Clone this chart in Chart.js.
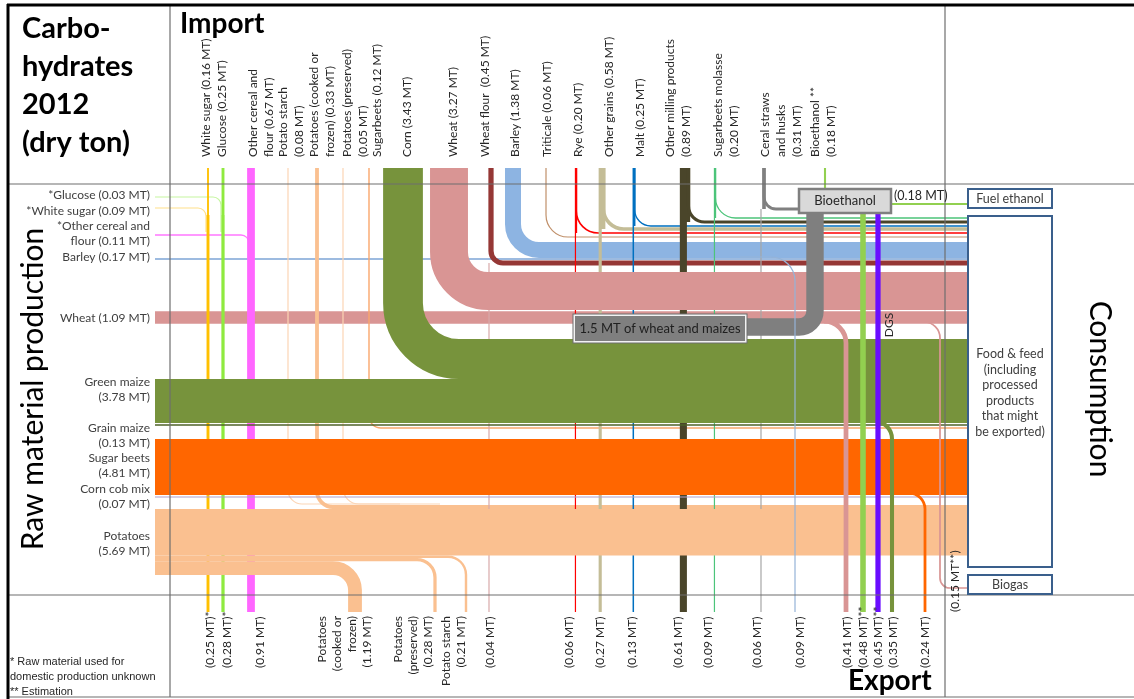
<!DOCTYPE html>
<html>
<head>
<meta charset="utf-8">
<title>Carbohydrates 2012 (dry ton)</title>
<script src="https://cdn.jsdelivr.net/npm/chart.js@4.4.1/dist/chart.umd.min.js"></script>
<style>
  html, body { margin: 0; padding: 0; background: #fff; }
  #wrap { width: 1134px; height: 699px; }
</style>
</head>
<body>
<div id="wrap"><canvas id="flows" width="1134" height="699"></canvas></div>
<script>
// ---- values (million dry tons) ----
const importLabels = ["White sugar ({v} MT)", "Glucose ({v} MT)", "Other cereal and\nflour ({v} MT)",
  "Potato starch\n({v} MT)", "Potatoes (cooked or\nfrozen) ({v} MT)", "Potatoes (preserved)\n({v} MT)",
  "Sugarbeets ({v} MT)", "Corn ({v} MT)", "Wheat ({v} MT)", "Wheat flour  ({v} MT)", "Barley ({v} MT)",
  "Triticale ({v} MT)", "Rye ({v} MT)", "Other grains ({v} MT)", "Malt ({v} MT)",
  "Other milling products\n({v} MT)", "Sugarbeets molasse\n({v} MT)", "Ceral straws\nand husks\n({v} MT)",
  "Bioethanol **\n({v} MT)"];
const importValues = [0.16, 0.25, 0.67, 0.08, 0.33, 0.05, 0.12, 3.43, 3.27, 0.45, 1.38, 0.06, 0.20, 0.58, 0.25, 0.89, 0.20, 0.31, 0.18];

const rawLabels = ["*Glucose ({v} MT)", "*White sugar ({v} MT)", "*Other cereal and\nflour ({v} MT)",
  "Barley ({v} MT)", "Wheat ({v} MT)", "Green maize\n({v} MT)", "Grain maize\n({v} MT)",
  "Sugar beets\n({v} MT)", "Corn cob mix\n({v} MT)", "Potatoes\n({v} MT)"];
const rawValues = [0.03, 0.09, 0.11, 0.17, 1.09, 3.78, 0.13, 4.81, 0.07, 5.69];

const exportLabels = ["({v} MT)*", "({v} MT)*", "({v} MT)", "Potatoes\n(cooked or\nfrozen)\n({v} MT)",
  "Potatoes\n(preserved)\n({v} MT)", "Potato starch\n({v} MT)", "({v} MT)", "({v} MT)", "({v} MT)",
  "({v} MT)", "({v} MT)", "({v} MT)", "({v} MT)", "({v} MT)", "({v} MT)", "({v} MT)**", "({v} MT)**",
  "({v} MT)", "({v} MT)", "({v} MT**)"];
const exportValues = [0.25, 0.28, 0.91, 1.19, 0.28, 0.21, 0.04, 0.06, 0.27, 0.13, 0.61, 0.09, 0.06, 0.09, 0.41, 0.48, 0.45, 0.35, 0.24, 0.15];

const wheatMaizeToEthanol = 1.5;
const fuelEthanol = 0.18;

// ---- layout (positions on the hidden 0..1134 / 0..699 scales) ----
const importX = [208, 223, 251, 288, 317, 343, 369, 403, 449, 491, 513, 546, 576, 602, 634, 685, 715, 764, 825];
const importLabelX = [206, 222, 253, 283, 314, 347, 377, 407, 453, 485, 515, 547, 578, 609, 640, 670, 718, 765, 815];
const rawY = [197, 208, 235, 259, 317.5, 401, 425, 467, 497, 509];
const rawLabelY = [195, 211, 226, 257, 318, 382, 428, 458, 489, 536];
const exportX = [208, 223, 251, 355, 435, 466, 489, 576, 600, 634, 684, 715, 761, 795, 846, 863, 878, 892, 925, 940];
const exportLabelX = [210, 227, 260, 322, 398, 446, 490, 569, 600, 632, 678, 708, 757, 800, 847, 863, 878, 893, 925, 955];

const K = 11.6;                       // px per MT
const TOP = 168, BOT = 612, LEFT = 155, RIGHT = 967;
const w = v => Math.max(v * K, 1.2);
const fmt = (tpl, v) => tpl.replace("{v}", v.toFixed(2));

// layer: 0 behind the big bands, 1 big bands, 2 on top
const flows = [];
let layer = 0;
function flow(value, color, pts, r) { flows.push({ value, color, pts, r, layer }); }

// through-going import column: part turns right into a lane, rest goes down to export
function through(i, color, laneY, r, e) {
  const x = importX[i], vi = importValues[i], ve = exportValues[e], vl = vi - ve;
  const wi = w(vi), we = w(ve), wl = w(vl);
  flow(vi, color, [[x, TOP], [x, laneY]]);
  const xb = x + wi / 2 - wl / 2;
  flow(vl, color, [[xb, TOP], [xb, laneY], [RIGHT, laneY]], r);
  flow(ve, color, [[x - wi / 2 + we / 2, laneY], [x - wi / 2 + we / 2, BOT]]);
}

// ---- layer 0 ----
flow(rawValues[0], "#C6F5A0", [[LEFT, rawY[0]], [importX[1] - 2, rawY[0]], [importX[1] - 2, 232]], 8);
flow(rawValues[1], "#FFE08A", [[LEFT, rawY[1]], [importX[0] - 2, rawY[1]], [importX[0] - 2, 232]], 8);
flow(rawValues[2], "#FF77FF", [[LEFT, rawY[2]], [importX[2] - 2, rawY[2]], [importX[2] - 2, 262]], 8);
flow(rawValues[4], "#D99594", [[LEFT, rawY[4]], [RIGHT, rawY[4]]]);
flow(rawValues[3], "#9DBBE0", [[LEFT, rawY[3]], [RIGHT, rawY[3]]]);
flow(importValues[10], "#8DB4E2", [[importX[10], TOP], [importX[10], 250], [RIGHT, 250]], 26);

flow(importValues[0], "#FFC000", [[importX[0], TOP], [importX[0], 215]]);
flow(exportValues[0], "#FFC000", [[importX[0], 215], [exportX[0], BOT]]);
flow(importValues[1], "#8FEA3F", [[importX[1], TOP], [importX[1], 215]]);
flow(exportValues[1], "#8FEA3F", [[importX[1], 215], [exportX[1], BOT]]);
flow(importValues[2], "#FF66FF", [[importX[2], TOP], [importX[2], BOT]]);
flow(importValues[3], "#FCD5B5", [[importX[3], TOP], [importX[3], 504], [400, 504]], 14);
flow(importValues[5], "#FCD5B5", [[importX[5], TOP], [importX[5], 504], [440, 504]], 16);
flow(importValues[4], "#FAC090", [[importX[4], TOP], [importX[4], 507], [RIGHT, 507]], 16);
flow(importValues[6], "#F9A66C", [[importX[6], TOP], [importX[6], 428], [RIGHT, 428]], 12);
flow(importValues[9], "#953735", [[importX[9], TOP], [importX[9], 263], [RIGHT, 263]], 12);
flow(exportValues[6], "#D8A9A9", [[exportX[6], 263], [exportX[6], BOT]]);
flow(importValues[11], "#C0906A", [[importX[11], TOP], [importX[11], 237], [RIGHT, 237]], 22);
through(12, "#FF0000", 233, 22, 7);
through(13, "#C4BD97", 229, 20, 8);
through(14, "#0070C0", 226, 16, 9);
through(15, "#4A452A", 222, 16, 10);
through(16, "#4CC47A", 218, 20, 11);
flow(importValues[17], "#808080", [[importX[17], TOP], [importX[17], 209]]);
flow(importValues[17] - exportValues[12], "#808080", [[importX[17], TOP], [importX[17], 209], [800, 209]], 12);
flow(exportValues[12], "#A6A6A6", [[exportX[12], 209], [exportX[12], BOT]]);
flow(importValues[18], "#92D050", [[importX[18], TOP], [importX[18], 190]]);

// ---- layer 1: big bands ----
layer = 1;
flow(importValues[8], "#D99594", [[importX[8], TOP], [importX[8], 291], [RIGHT, 291]], 39);
flow(importValues[7], "#77933C", [[importX[7], TOP], [importX[7], 359], [RIGHT, 359]], 56);
flow(rawValues[5], "#77933C", [[LEFT, rawY[5]], [RIGHT, rawY[5]]]);
flow(rawValues[6], "#4F6228", [[LEFT, rawY[6]], [RIGHT, rawY[6]]]);
flow(rawValues[7], "#FF6600", [[LEFT, rawY[7]], [RIGHT, rawY[7]]]);
flow(rawValues[8], "#B1A0C7", [[LEFT, rawY[8]], [RIGHT, rawY[8]]]);
let py = rawY[9];
const potMain = rawValues[9] - exportValues[3] - exportValues[4] - exportValues[5];
flow(potMain, "#FAC090", [[LEFT, py + potMain * K / 2], [RIGHT, py + potMain * K / 2]]);
py += potMain * K;
[[5, 18], [4, 18], [3, 22]].forEach(([e, r]) => {
  const h = exportValues[e] * K;
  flow(exportValues[e], "#FAC090", [[LEFT, py + h / 2], [exportX[e], py + h / 2], [exportX[e], BOT]], r);
  py += h;
});
flow(wheatMaizeToEthanol, "#7F7F7F", [[746, 327], [815, 327], [815, 213]], 16);

// ---- layer 2: exports on the right side ----
layer = 2;
flow(exportValues[13], "#95B3D7", [[740, 257], [exportX[13], 257], [exportX[13], BOT]], 24);
flow(exportValues[14], "#D99594", [[824, 321], [exportX[14], 321], [exportX[14], BOT]], 22);
flow(exportValues[19], "#D99594", [[884, 322], [exportX[19], 322], [exportX[19], 588], [RIGHT, 588]], [16, 10]);
flow(exportValues[17], "#77933C", [[860, 421], [exportX[17], 421], [exportX[17], BOT]], 18);
flow(exportValues[18], "#FF6600", [[895, 493], [exportX[18], 493], [exportX[18], BOT]], 16);
flow(exportValues[15], "#92D050", [[exportX[15], 213], [exportX[15], BOT]]);
flow(exportValues[16], "#6A0DFF", [[exportX[16], 213], [exportX[16], BOT]]);
flow(fuelEthanol, "#92D050", [[891, 204], [RIGHT, 204]]);

const datasets = flows.map(f => ({
  data: f.pts.map(([x, y]) => ({ x, y })),
  borderColor: f.color,
  borderWidth: w(f.value),
  corner: f.r,
  layer: f.layer,
  showLine: false,
  pointRadius: 0
}));

// draws each dataset as a band with rounded corners, placed through the x / y scales
const flowPlugin = {
  id: "flowBands",
  afterDatasetsDraw(chart) {
    const ctx = chart.ctx;
    const xs = chart.scales.x, ys = chart.scales.y;
    [0, 1, 2].forEach(L => {
      chart.data.datasets.forEach(ds => {
        if (ds.layer !== L) return;
        const pts = ds.data.map(p => ({ x: xs.getPixelForValue(p.x), y: ys.getPixelForValue(p.y) }));
        ctx.save();
        ctx.beginPath();
        ctx.moveTo(pts[0].x, pts[0].y);
        for (let j = 1; j < pts.length - 1; j++) {
          const r = Array.isArray(ds.corner) ? ds.corner[j - 1] : (ds.corner || 0);
          ctx.arcTo(pts[j].x, pts[j].y, pts[j + 1].x, pts[j + 1].y, r);
        }
        ctx.lineTo(pts[pts.length - 1].x, pts[pts.length - 1].y);
        ctx.lineWidth = ds.borderWidth;
        ctx.strokeStyle = ds.borderColor;
        ctx.lineCap = "butt";
        ctx.stroke();
        ctx.restore();
      });
    });
  }
};

function txt(ctx, s, x, y, o) {
  ctx.save();
  ctx.translate(x, y);
  if (o.rot) ctx.rotate(o.rot);
  ctx.font = o.font;
  ctx.fillStyle = o.color || "#262626";
  ctx.textAlign = o.align || "left";
  ctx.textBaseline = o.base || "middle";
  ctx.fillText(s, 0, 0);
  ctx.restore();
}

const decorPlugin = {
  id: "decor",
  afterDraw(chart) {
    const ctx = chart.ctx;
    const X = v => chart.scales.x.getPixelForValue(v);
    const Y = v => chart.scales.y.getPixelForValue(v);
    const box = (x0, y0, x1, y1, fill, stroke, lw) => {
      ctx.save();
      ctx.fillStyle = fill; ctx.fillRect(X(x0), Y(y0), X(x1) - X(x0), Y(y1) - Y(y0));
      ctx.strokeStyle = stroke; ctx.lineWidth = lw;
      ctx.strokeRect(X(x0), Y(y0), X(x1) - X(x0), Y(y1) - Y(y0));
      ctx.restore();
    };
    const line = (x0, y0, x1, y1, color, lw) => {
      ctx.save(); ctx.beginPath();
      ctx.moveTo(X(x0), Y(y0)); ctx.lineTo(X(x1), Y(y1));
      ctx.strokeStyle = color; ctx.lineWidth = lw; ctx.stroke(); ctx.restore();
    };

    // frame
    [184, 595, 697].forEach(y => line(8, y, 1134, y, "#6E6E6E", 1.2));
    [170, 945].forEach(x => line(x, 5, x, 697, "#6E6E6E", 1.2));
    line(7, 5, 1134, 5, "#000", 3);
    line(8, 4, 8, 699, "#000", 3);

    // process boxes
    box(574, 315, 746, 342, "#7F7F7F", "#F2F2F2", 2);
    box(573, 314, 747, 343, "rgba(0,0,0,0)", "#6E6E6E", 1);
    txt(ctx, "1.5 MT of wheat and maizes", X(660), Y(329), { font: "13px Lato", color: "#1F1F1F", align: "center" });
    box(799, 189, 891, 213, "#D9D9D9", "#7F7F7F", 2.5);
    txt(ctx, "Bioethanol", X(845), Y(201), { font: "13px Lato", color: "#262626", align: "center" });
    txt(ctx, "(" + fuelEthanol.toFixed(2) + " MT)", X(894), Y(196), { font: "12.5px Lato" });
    txt(ctx, "DGS", X(889), Y(325), { font: "12px Lato", rot: -Math.PI / 2, align: "center" });

    // consumption boxes
    box(968, 189, 1052, 208, "#fff", "#3A5F8C", 2);
    box(968, 216, 1052, 567, "#fff", "#3A5F8C", 2);
    box(968, 575, 1052, 594, "#fff", "#3A5F8C", 2);
    txt(ctx, "Fuel ethanol", X(1010), Y(199), { font: "12.5px Lato", align: "center", color: "#404040" });
    txt(ctx, "Biogas", X(1010), Y(585), { font: "12.5px Lato", align: "center", color: "#404040" });
    ["Food & feed", "(including", "processed", "products", "that might", "be exported)"].forEach((s, j) =>
      txt(ctx, s, X(1010), Y(354 + j * 15.5), { font: "12.5px Lato", align: "center", color: "#404040" }));

    // headings
    ["Carbo-", "hydrates", "2012", "(dry ton)"].forEach((s, j) =>
      txt(ctx, s, X(22), Y(38 + j * 38), { font: "bold 29px Lato", color: "#000", base: "alphabetic" }));
    txt(ctx, "Import", X(180), Y(33), { font: "bold 28px Lato", color: "#000", base: "alphabetic" });
    txt(ctx, "Export", X(848), Y(690), { font: "bold 28px Lato", color: "#000", base: "alphabetic" });
    txt(ctx, "Raw material production", X(43), Y(389), { font: "30px Lato", color: "#000", rot: -Math.PI / 2, align: "center", base: "alphabetic" });
    txt(ctx, "Consumption", X(1090), Y(389), { font: "30px Lato", color: "#000", rot: Math.PI / 2, align: "center", base: "alphabetic" });

    // import labels
    importLabels.forEach((tpl, i) => fmt(tpl, importValues[i]).split("\n").forEach((s, j) =>
      txt(ctx, s, X(importLabelX[i] + j * 16), Y(157), { font: "12px Lato", rot: -Math.PI / 2 })));
    // raw material labels
    rawLabels.forEach((tpl, i) => fmt(tpl, rawValues[i]).split("\n").forEach((s, j) =>
      txt(ctx, s, X(150), Y(rawLabelY[i] + j * 15.5), { font: "12px Lato", align: "right", color: "#404040" })));
    // export labels
    exportLabels.forEach((tpl, i) => {
      const lines = fmt(tpl, exportValues[i]).split("\n");
      lines.forEach((s, j) => {
        if (lines.length > 1)
          txt(ctx, s, X(exportLabelX[i] + j * 15), Y(616), { font: "12px Lato", rot: -Math.PI / 2, align: "right" });
        else
          txt(ctx, s, X(exportLabelX[i]), Y(i === 19 ? 612 : 668), { font: "12px Lato", rot: -Math.PI / 2 });
      });
    });

    // footnotes
    ["* Raw material used for", "domestic production unknown", "** Estimation"].forEach((s, j) =>
      txt(ctx, s, X(10), Y(662 + j * 15), { font: "11px 'Liberation Sans'", color: "#262626" }));
  }
};

new Chart(document.getElementById("flows").getContext("2d"), {
  type: "line",
  data: { datasets },
  options: {
    responsive: false,
    animation: false,
    events: [],
    layout: { padding: 0, autoPadding: false },
    plugins: { legend: { display: false }, tooltip: { enabled: false } },
    scales: {
      x: { type: "linear", min: 0, max: 1134, display: false },
      y: { type: "linear", min: 0, max: 699, reverse: true, display: false }
    }
  },
  plugins: [flowPlugin, decorPlugin]
});
</script>
</body>
</html>
